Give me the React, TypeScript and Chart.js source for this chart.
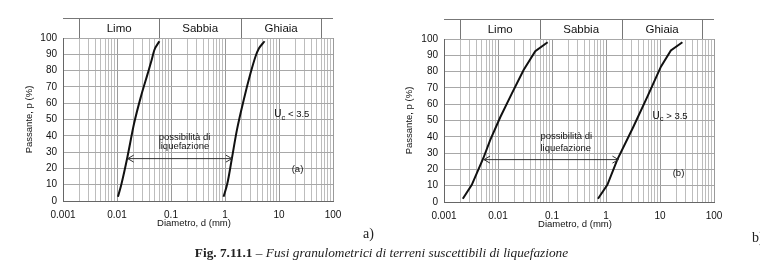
import React, { useEffect, useRef } from 'react';
import { Chart, registerables } from 'chart.js';

Chart.register(...registerables);

// ---------- data ----------
const DECADES = [0.001, 0.01, 0.1, 1, 10, 100];
const DECADE_LABELS = ['0.001', '0.01', '0.1', '1', '10', '100'];
const MANTISSAS = [1, 2, 3, 4, 5, 6, 7, 8, 9];
const Y_MIN = 0;
const Y_MAX = 100;
const Y_STEP = 10;

const FRACTION_BOUNDS = [0.002, 0.06, 2, 60];
const FRACTION_NAMES = ['Limo', 'Sabbia', 'Ghiaia'];

// chart (a) – Uc < 3.5
const A_LEFT_D = [0.0104, 0.012, 0.0156, 0.0207, 0.0277, 0.0369, 0.0438, 0.049, 0.061];
const A_LEFT_P = [2.6, 10, 27, 47.5, 64, 78, 86.5, 92.5, 98];
const A_RIGHT_D = [0.94, 1.11, 1.34, 1.66, 2.22, 2.95, 3.66, 4.24, 5.4];
const A_RIGHT_P = [2.6, 11, 26, 43.5, 62, 78, 88.5, 93.5, 98];
const A_ARROW_D = [0.0158, 1.34];
const A_ARROW_P = 26;

// chart (b) – Uc > 3.5
const B_LEFT_D = [0.00223, 0.00327, 0.00537, 0.00716, 0.011, 0.018, 0.0298, 0.049, 0.083];
const B_LEFT_P = [2, 10.5, 27, 38, 52, 66.5, 81, 92.5, 98];
const B_RIGHT_D = [0.71, 1.06, 1.62, 3.2, 5.9, 10.4, 15.9, 26];
const B_RIGHT_P = [2, 10.5, 26, 46, 65, 83, 93, 98];
const B_ARROW_D = [0.0055, 1.7];
const B_ARROW_P = 26;

const ARROW_TEXT = ['possibilità di', 'liquefazione'];
const X_TITLE = 'Diametro, d (mm)';
const Y_TITLE = 'Passante, p (%)';
const CAPTION_BOLD = 'Fig. 7.11.1';
const CAPTION_ITALIC = ' – Fusi granulometrici di terreni suscettibili di liquefazione';

// ---------- configs (layout/annotation anchors) ----------
type Cfg = {
  id: string;
  left: number;
  area: { left: number; right: number; top: number; bottom: number };
  curves: { d: number[]; p: number[]; smooth: boolean }[];
  arrowD: number[];
  arrowP: number;
  textAt: { d: number; p: number[] };
  ucAt: { d: number; p: number };
  ucSign: string;
  tag: string;
  tagAt: { d: number; p: number };
};

const CFG_A: Cfg = {
  id: 'a',
  left: 0,
  area: { left: 63, right: 333, top: 38, bottom: 201 },
  curves: [
    { d: A_LEFT_D, p: A_LEFT_P, smooth: true },
    { d: A_RIGHT_D, p: A_RIGHT_P, smooth: true },
  ],
  arrowD: A_ARROW_D,
  arrowP: A_ARROW_P,
  textAt: { d: 0.059, p: [39.3, 33.8] },
  ucAt: { d: 8.2, p: 53 },
  ucSign: '<',
  tag: '(a)',
  tagAt: { d: 22, p: 19.6 },
};

const CFG_B: Cfg = {
  id: 'b',
  left: 380,
  area: { left: 64, right: 334, top: 39, bottom: 202 },
  curves: [
    { d: B_LEFT_D, p: B_LEFT_P, smooth: false },
    { d: B_RIGHT_D, p: B_RIGHT_P, smooth: false },
  ],
  arrowD: B_ARROW_D,
  arrowP: B_ARROW_P,
  textAt: { d: 0.061, p: [40, 33.2] },
  ucAt: { d: 7.3, p: 52.5 },
  ucSign: '>',
  tag: '(b)',
  tagAt: { d: 22, p: 17.6 },
};

const X_TICKS: number[] = DECADES.slice(0, -1)
  .flatMap((d) => MANTISSAS.map((m) => parseFloat((m * d).toPrecision(6))))
  .concat([DECADES[DECADES.length - 1]]);

const isDecade = (v: number) => DECADES.some((d) => Math.abs(d - v) / d < 1e-6);

const FONT = '"Liberation Sans", Arial, sans-serif';
const TEXT = '#111';

function decoPlugin(cfg: Cfg) {
  return {
    id: 'deco_' + cfg.id,
    afterDatasetsDraw(chart: any) {
      const ctx = chart.ctx;
      const meta = chart.getDatasetMeta(2);
      if (!meta || !meta.data || meta.data.length < 2) return;
      const p0 = meta.data[0];
      const p1 = meta.data[1];
      ctx.save();
      ctx.strokeStyle = '#333';
      ctx.lineWidth = 1;
      ctx.beginPath();
      ctx.moveTo(p0.x + 6, p0.y - 3.5);
      ctx.lineTo(p0.x, p0.y);
      ctx.lineTo(p0.x + 6, p0.y + 3.5);
      ctx.moveTo(p1.x - 6, p1.y - 3.5);
      ctx.lineTo(p1.x, p1.y);
      ctx.lineTo(p1.x - 6, p1.y + 3.5);
      ctx.stroke();
      ctx.restore();
    },
    afterDraw(chart: any) {
      const ctx = chart.ctx;
      const xs = chart.scales.x;
      const ys = chart.scales.y;
      const ca = chart.chartArea;
      ctx.save();
      // header band
      const bandTop = ca.top - 20;
      ctx.strokeStyle = '#777';
      ctx.lineWidth = 1;
      ctx.beginPath();
      ctx.moveTo(ca.left, bandTop + 0.5);
      ctx.lineTo(ca.right, bandTop + 0.5);
      FRACTION_BOUNDS.forEach((b) => {
        const x = Math.round(xs.getPixelForValue(b)) + 0.5;
        ctx.moveTo(x, bandTop);
        ctx.lineTo(x, ca.top);
      });
      ctx.stroke();
      ctx.fillStyle = TEXT;
      ctx.font = '11.5px ' + FONT;
      ctx.textAlign = 'center';
      ctx.textBaseline = 'middle';
      FRACTION_NAMES.forEach((n, i) => {
        const x0 = xs.getPixelForValue(FRACTION_BOUNDS[i]);
        const x1 = xs.getPixelForValue(FRACTION_BOUNDS[i + 1]);
        ctx.fillText(n, (x0 + x1) / 2, bandTop + 10.5);
      });

      // axis titles
      ctx.font = '9.5px ' + FONT;
      ctx.fillText(X_TITLE, (ca.left + ca.right) / 2 - 4, ca.bottom + 22);
      ctx.save();
      ctx.translate(29, (ca.top + ca.bottom) / 2);
      ctx.rotate(-Math.PI / 2);
      ctx.fillText(Y_TITLE, 0, 0);
      ctx.restore();

      // arrow text
      ctx.textAlign = 'left';
      const tx = xs.getPixelForValue(cfg.textAt.d);
      ARROW_TEXT.forEach((t, i) => {
        ctx.fillText(t, tx, ys.getPixelForValue(cfg.textAt.p[i]));
      });

      // Uc label
      let ux = xs.getPixelForValue(cfg.ucAt.d);
      const uy = ys.getPixelForValue(cfg.ucAt.p);
      ctx.font = '10px ' + FONT;
      ctx.fillText('U', ux, uy);
      ux += ctx.measureText('U').width;
      ctx.font = '7.5px ' + FONT;
      ctx.fillText('c', ux, uy + 3);
      ux += ctx.measureText('c').width;
      ctx.font = '9.5px ' + FONT;
      ctx.fillText(' ' + cfg.ucSign + ' 3.5', ux, uy);

      // tag
      ctx.textAlign = 'center';
      ctx.fillText(cfg.tag, xs.getPixelForValue(cfg.tagAt.d), ys.getPixelForValue(cfg.tagAt.p));
      ctx.restore();
    },
  };
}

function SoilChart({ cfg }: { cfg: Cfg }) {
  const ref = useRef<HTMLCanvasElement>(null);
  useEffect(() => {
    const W = 380;
    const H = 240;
    const datasets: any[] = cfg.curves.map((c) => ({
      data: c.d.map((d, i) => ({ x: d, y: c.p[i] })),
      showLine: true,
      borderColor: '#111',
      borderWidth: 2,
      pointRadius: 0,
      cubicInterpolationMode: c.smooth ? 'monotone' : 'default',
      tension: c.smooth ? 0.4 : 0,
    }));
    datasets.push({
      data: cfg.arrowD.map((d) => ({ x: d, y: cfg.arrowP })),
      showLine: true,
      borderColor: '#333',
      borderWidth: 1,
      pointRadius: 0,
    });
    const chart = new Chart(ref.current as HTMLCanvasElement, {
      type: 'scatter',
      data: { datasets },
      options: {
        responsive: false,
        animation: false,
        devicePixelRatio: 1,
        layout: {
          padding: { top: cfg.area.top, right: W - cfg.area.right, left: 0, bottom: 0 },
        },
        plugins: { legend: { display: false }, tooltip: { enabled: false } },
        scales: {
          x: {
            type: 'logarithmic',
            min: DECADES[0],
            max: DECADES[DECADES.length - 1],
            afterBuildTicks: (s: any) => {
              s.ticks = X_TICKS.map((v) => ({ value: v }));
            },
            afterFit: (s: any) => {
              s.height = H - cfg.area.bottom;
            },
            ticks: {
              autoSkip: false,
              maxRotation: 0,
              padding: 8,
              color: TEXT,
              font: { family: FONT, size: 10 },
              callback: (v: any) => {
                const i = DECADES.findIndex((d) => Math.abs(d - v) / d < 1e-6);
                return i >= 0 ? DECADE_LABELS[i] : '';
              },
            },
            grid: {
              drawTicks: false,
              color: (c: any) => (c.tick && isDecade(c.tick.value) ? '#9a9a9a' : '#bdbdbd'),
              lineWidth: 1,
            },
            border: { display: true, color: '#666', width: 1 },
          },
          y: {
            type: 'linear',
            min: Y_MIN,
            max: Y_MAX,
            afterFit: (s: any) => {
              s.width = cfg.area.left;
            },
            ticks: {
              stepSize: Y_STEP,
              padding: 6,
              color: TEXT,
              font: { family: FONT, size: 10 },
            },
            grid: { drawTicks: false, color: '#a8a8a8', lineWidth: 1 },
            border: { display: true, color: '#666', width: 1 },
          },
        },
      },
      plugins: [decoPlugin(cfg)],
    } as any);
    return () => chart.destroy();
  }, [cfg]);
  return (
    <canvas
      ref={ref}
      width={380}
      height={240}
      style={{ position: 'absolute', left: cfg.left, top: 0, width: 380, height: 240 }}
    />
  );
}

export default function App() {
  return (
    <div
      style={{
        position: 'absolute',
        left: 0,
        top: 0,
        width: 760,
        height: 271,
        background: '#fff',
        overflow: 'hidden',
      }}
    >
      <SoilChart cfg={CFG_A} />
      <SoilChart cfg={CFG_B} />
      <div
        style={{
          position: 'absolute',
          left: 363,
          top: 226,
          font: '14px "Liberation Serif", "Times New Roman", serif',
          color: '#222',
        }}
      >
        a)
      </div>
      <div
        style={{
          position: 'absolute',
          left: 752,
          top: 230,
          font: '14px "Liberation Serif", "Times New Roman", serif',
          color: '#222',
          whiteSpace: 'nowrap',
        }}
      >
        b)
      </div>
      <div
        style={{
          position: 'absolute',
          left: 0,
          top: 245,
          width: 763,
          textAlign: 'center',
          font: '13.3px "Liberation Serif", "Times New Roman", serif',
          color: '#222',
          whiteSpace: 'nowrap',
        }}
      >
        <b>{CAPTION_BOLD}</b>
        <i>{CAPTION_ITALIC}</i>
      </div>
    </div>
  );
}
